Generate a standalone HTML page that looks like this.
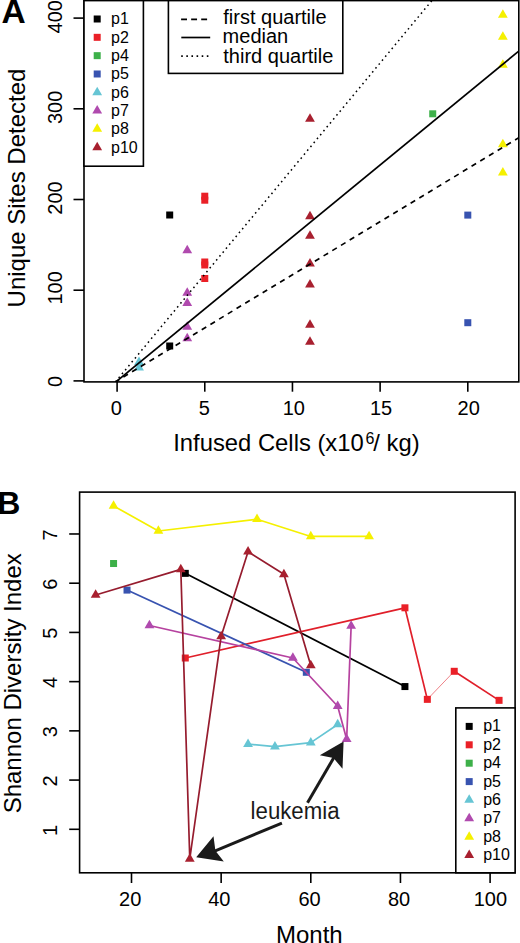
<!DOCTYPE html>
<html><head><meta charset="utf-8"><style>
html,body{margin:0;padding:0;background:#fff;}
body{width:520px;height:943px;overflow:hidden;}
svg{display:block;font-family:"Liberation Sans", sans-serif;}
</style></head><body>
<svg width="520" height="943" viewBox="0 0 520 943" font-family="Liberation Sans, sans-serif">
<rect width="520" height="943" fill="#fff"/>
<g>
<rect x="166.2" y="211.5" width="7" height="7" fill="#000000"/>
<rect x="166.2" y="342.5" width="7" height="7" fill="#000000"/>
<rect x="201.27" y="192.7" width="7" height="7" fill="#EA2027"/>
<rect x="201.27" y="196.7" width="7" height="7" fill="#EA2027"/>
<rect x="201.27" y="258.5" width="7" height="7" fill="#EA2027"/>
<rect x="201.27" y="261.5" width="7" height="7" fill="#EA2027"/>
<rect x="201.27" y="275" width="7" height="7" fill="#EA2027"/>
<rect x="429.23" y="110.3" width="7" height="7" fill="#3DB049"/>
<rect x="464.3" y="211.6" width="7" height="7" fill="#3853B0"/>
<rect x="464.3" y="319.2" width="7" height="7" fill="#3853B0"/>
<path d="M139.02 356.54L143.92 365.03L134.12 365.03Z" fill="#66C5D4"/>
<path d="M139.02 361.94L143.92 370.43L134.12 370.43Z" fill="#66C5D4"/>
<path d="M187.24 244.64L192.14 253.13L182.34 253.13Z" fill="#B04AAE"/>
<path d="M187.24 287.14L192.14 295.63L182.34 295.63Z" fill="#B04AAE"/>
<path d="M187.24 297.54L192.14 306.03L182.34 306.03Z" fill="#B04AAE"/>
<path d="M187.24 321.14L192.14 329.63L182.34 329.63Z" fill="#B04AAE"/>
<path d="M187.24 332.74L192.14 341.23L182.34 341.23Z" fill="#B04AAE"/>
<path d="M502.87 9.34L507.77 17.83L497.97 17.83Z" fill="#F5F000"/>
<path d="M502.87 31.24L507.77 39.73L497.97 39.73Z" fill="#F5F000"/>
<path d="M502.87 59.34L507.77 67.83L497.97 67.83Z" fill="#F5F000"/>
<path d="M502.87 138.64L507.77 147.13L497.97 147.13Z" fill="#F5F000"/>
<path d="M502.87 167.04L507.77 175.53L497.97 175.53Z" fill="#F5F000"/>
<path d="M309.99 113.14L314.88 121.63L305.09 121.63Z" fill="#A8202F"/>
<path d="M309.99 210.64L314.88 219.13L305.09 219.13Z" fill="#A8202F"/>
<path d="M309.99 230.34L314.88 238.83L305.09 238.83Z" fill="#A8202F"/>
<path d="M309.99 258.04L314.88 266.53L305.09 266.53Z" fill="#A8202F"/>
<path d="M309.99 278.94L314.88 287.43L305.09 287.43Z" fill="#A8202F"/>
<path d="M309.99 319.14L314.88 327.63L305.09 327.63Z" fill="#A8202F"/>
<path d="M309.99 336.14L314.88 344.63L305.09 344.63Z" fill="#A8202F"/>
<clipPath id="clipA"><rect x="84" y="0.6" width="434.8" height="381.3"/></clipPath>
<line x1="115.45" y1="381.9" x2="518.8" y2="137.71" stroke="#000" stroke-width="1.7" stroke-dasharray="5.3 4.875" stroke-dashoffset="0.9" clip-path="url(#clipA)"/>
<line x1="115.88" y1="381.9" x2="518.8" y2="51.1" stroke="#000" stroke-width="1.7"  clip-path="url(#clipA)"/>
<line x1="115.44" y1="381.9" x2="431.87" y2="0.6" stroke="#000" stroke-width="1.5" stroke-dasharray="1.6 3.49" stroke-dashoffset="0.02" clip-path="url(#clipA)"/>
<rect x="84" y="0.6" width="434.8" height="381.3" fill="none" stroke="#000" stroke-width="1.6"/>
<line x1="73.5" y1="380.9" x2="84" y2="380.9" stroke="#000" stroke-width="1.6"/>
<text x="0" y="0" font-size="20" transform="translate(61.5 387.05) rotate(-90)" >0</text>
<line x1="73.5" y1="290.2" x2="84" y2="290.2" stroke="#000" stroke-width="1.6"/>
<text x="0" y="0" font-size="20" transform="translate(61.5 304.5) rotate(-90)" >100</text>
<line x1="73.5" y1="199.5" x2="84" y2="199.5" stroke="#000" stroke-width="1.6"/>
<text x="0" y="0" font-size="20" transform="translate(61.5 214.7) rotate(-90)" >200</text>
<line x1="73.5" y1="108.8" x2="84" y2="108.8" stroke="#000" stroke-width="1.6"/>
<text x="0" y="0" font-size="20" transform="translate(61.5 124.07) rotate(-90)" >300</text>
<line x1="73.5" y1="18.1" x2="84" y2="18.1" stroke="#000" stroke-width="1.6"/>
<text x="0" y="0" font-size="20" transform="translate(61.5 33.47) rotate(-90)" >400</text>
<line x1="117.1" y1="381.9" x2="117.1" y2="391.7" stroke="#000" stroke-width="1.6"/>
<text x="110.85" y="414.8" font-size="20" >0</text>
<line x1="204.77" y1="381.9" x2="204.77" y2="391.7" stroke="#000" stroke-width="1.6"/>
<text x="198.7" y="414.8" font-size="20" >5</text>
<line x1="292.45" y1="381.9" x2="292.45" y2="391.7" stroke="#000" stroke-width="1.6"/>
<text x="282.72" y="414.8" font-size="20" >10</text>
<line x1="380.12" y1="381.9" x2="380.12" y2="391.7" stroke="#000" stroke-width="1.6"/>
<text x="369.95" y="414.8" font-size="20" >15</text>
<line x1="467.8" y1="381.9" x2="467.8" y2="391.7" stroke="#000" stroke-width="1.6"/>
<text x="457.57" y="414.8" font-size="20" >20</text>
<text x="0" y="0" font-size="24" transform="translate(25 307.45) rotate(-90)" >Unique Sites Detected</text>
<text x="173.26" y="450.7" font-size="23.8" >Infused Cells (x10</text>
<text x="365.5" y="443.6" font-size="16" >6</text>
<text x="373.3" y="450.7" font-size="23.8" >/ kg)</text>
<text x="1.46" y="22.7" font-size="33.5" font-weight="bold" >A</text>
<rect x="84" y="0.6" width="59.4" height="165.6" fill="#fff" stroke="#000" stroke-width="1.6"/>
<rect x="93.7" y="15.5" width="7" height="7" fill="#000000"/>
<text x="111" y="24.35" font-size="16" >p1</text>
<rect x="93.7" y="33.83" width="7" height="7" fill="#EA2027"/>
<text x="111" y="42.68" font-size="16" >p2</text>
<rect x="93.7" y="52.16" width="7" height="7" fill="#3DB049"/>
<text x="111" y="61.01" font-size="16" >p4</text>
<rect x="93.7" y="70.49" width="7" height="7" fill="#3853B0"/>
<text x="111" y="79.34" font-size="16" >p5</text>
<path d="M97.2 86.66L102.1 95.15L92.3 95.15Z" fill="#66C5D4"/>
<text x="111" y="97.67" font-size="16" >p6</text>
<path d="M97.2 104.99L102.1 113.48L92.3 113.48Z" fill="#B04AAE"/>
<text x="111" y="116" font-size="16" >p7</text>
<path d="M97.2 123.32L102.1 131.81L92.3 131.81Z" fill="#F5F000"/>
<text x="111" y="134.33" font-size="16" >p8</text>
<path d="M97.2 141.65L102.1 150.14L92.3 150.14Z" fill="#A8202F"/>
<text x="111" y="152.66" font-size="16" >p10</text>
<rect x="168.4" y="0.6" width="174.4" height="72.8" fill="#fff" stroke="#000" stroke-width="1.6"/>
<line x1="181.1" y1="19.3" x2="210" y2="19.3" stroke="#000" stroke-width="1.7" stroke-dasharray="5.9 4.15"/>
<line x1="181.3" y1="37.5" x2="210.2" y2="37.5" stroke="#000" stroke-width="1.7"/>
<line x1="181.1" y1="56.1" x2="210" y2="56.1" stroke="#000" stroke-width="1.6" stroke-dasharray="1.6 3.52" stroke-dashoffset="-0.1"/>
<text x="223.25" y="24.2" font-size="20" >first quartile</text>
<text x="222.6" y="42.7" font-size="20" >median</text>
<text x="223.3" y="63.3" font-size="20" >third quartile</text>
</g>
<polyline points="185.29,573.36 404.93,686.56" fill="none" stroke="#000000" stroke-width="1.7" stroke-linejoin="round"/>
<rect x="181.79" y="569.86" width="7" height="7" fill="#000000"/>
<rect x="401.43" y="683.06" width="7" height="7" fill="#000000"/>
<polyline points="185.29,658.01 404.93,607.81 427.34,699.36" fill="none" stroke="#E01F2A" stroke-width="1.7" stroke-linejoin="round"/>
<polyline points="454.24,671.3 499.06,700.34" fill="none" stroke="#E01F2A" stroke-width="1.7" stroke-linejoin="round"/>
<line x1="427.34" y1="699.36" x2="454.24" y2="671.3" stroke="#E01F2A" stroke-width="0.8" stroke-opacity="0.7"/>
<rect x="181.79" y="654.51" width="7" height="7" fill="#EA2027"/>
<rect x="401.43" y="604.31" width="7" height="7" fill="#EA2027"/>
<rect x="423.84" y="695.86" width="7" height="7" fill="#EA2027"/>
<rect x="450.74" y="667.8" width="7" height="7" fill="#EA2027"/>
<rect x="495.56" y="696.84" width="7" height="7" fill="#EA2027"/>
<rect x="110.07" y="560.01" width="7" height="7" fill="#3DB049"/>
<polyline points="127.02,590.09 306.32,672.29" fill="none" stroke="#3853B0" stroke-width="1.7" stroke-linejoin="round"/>
<rect x="123.52" y="586.59" width="7" height="7" fill="#3853B0"/>
<rect x="302.82" y="668.79" width="7" height="7" fill="#3853B0"/>
<polyline points="248.05,744.15 274.94,746.61 310.8,742.67 337.69,724.46" fill="none" stroke="#66C5D4" stroke-width="1.7" stroke-linejoin="round"/>
<path d="M248.05 738.49L252.95 746.98L243.15 746.98Z" fill="#66C5D4"/>
<path d="M274.94 740.95L279.84 749.44L270.04 749.44Z" fill="#66C5D4"/>
<path d="M310.8 737.01L315.7 745.5L305.9 745.5Z" fill="#66C5D4"/>
<path d="M337.69 718.8L342.59 727.29L332.8 727.29Z" fill="#66C5D4"/>
<polyline points="149.43,625.53 292.87,658.01 337.69,706.25 346.66,739.23 351.14,626.02" fill="none" stroke="#B6429F" stroke-width="1.7" stroke-linejoin="round"/>
<path d="M149.43 619.87L154.33 628.36L144.53 628.36Z" fill="#B04AAE"/>
<path d="M292.87 652.36L297.77 660.84L287.97 660.84Z" fill="#B04AAE"/>
<path d="M337.69 700.59L342.59 709.08L332.8 709.08Z" fill="#B04AAE"/>
<path d="M346.66 733.57L351.56 742.06L341.76 742.06Z" fill="#B04AAE"/>
<path d="M351.14 620.36L356.04 628.85L346.24 628.85Z" fill="#B04AAE"/>
<polyline points="113.57,505.92 158.4,531.03 257.01,519.21 310.8,536.44 369.07,536.44" fill="none" stroke="#F5F000" stroke-width="1.7" stroke-linejoin="round"/>
<path d="M113.57 500.27L118.47 508.75L108.67 508.75Z" fill="#F5F000"/>
<path d="M158.4 525.37L163.3 533.86L153.5 533.86Z" fill="#F5F000"/>
<path d="M257.01 513.56L261.91 522.04L252.11 522.04Z" fill="#F5F000"/>
<path d="M310.8 530.78L315.7 539.27L305.9 539.27Z" fill="#F5F000"/>
<path d="M369.07 530.78L373.97 539.27L364.17 539.27Z" fill="#F5F000"/>
<polyline points="95.64,595.01 180.81,569.42 189.77,858.83 221.15,636.36 248.05,551.7 283.9,574.34 310.8,665.4" fill="none" stroke="#961C2E" stroke-width="1.7" stroke-linejoin="round"/>
<path d="M95.64 589.35L100.54 597.84L90.74 597.84Z" fill="#A8202F"/>
<path d="M180.81 563.76L185.71 572.25L175.91 572.25Z" fill="#A8202F"/>
<path d="M189.77 853.17L194.67 861.66L184.87 861.66Z" fill="#A8202F"/>
<path d="M221.15 630.7L226.05 639.19L216.25 639.19Z" fill="#A8202F"/>
<path d="M248.05 546.04L252.95 554.53L243.15 554.53Z" fill="#A8202F"/>
<path d="M283.9 568.68L288.8 577.17L279 577.17Z" fill="#A8202F"/>
<path d="M310.8 659.74L315.7 668.23L305.9 668.23Z" fill="#A8202F"/>
<rect x="79.6" y="492.1" width="435.5" height="380.7" fill="none" stroke="#000" stroke-width="1.6"/>
<line x1="69.2" y1="829.3" x2="79.6" y2="829.3" stroke="#000" stroke-width="1.6"/>
<text x="0" y="0" font-size="20" transform="translate(57.4 836.02) rotate(-90)" >1</text>
<line x1="69.2" y1="780.08" x2="79.6" y2="780.08" stroke="#000" stroke-width="1.6"/>
<text x="0" y="0" font-size="20" transform="translate(57.4 786.55) rotate(-90)" >2</text>
<line x1="69.2" y1="730.86" x2="79.6" y2="730.86" stroke="#000" stroke-width="1.6"/>
<text x="0" y="0" font-size="20" transform="translate(57.4 737.26) rotate(-90)" >3</text>
<line x1="69.2" y1="681.64" x2="79.6" y2="681.64" stroke="#000" stroke-width="1.6"/>
<text x="0" y="0" font-size="20" transform="translate(57.4 688.04) rotate(-90)" >4</text>
<line x1="69.2" y1="632.42" x2="79.6" y2="632.42" stroke="#000" stroke-width="1.6"/>
<text x="0" y="0" font-size="20" transform="translate(57.4 638.87) rotate(-90)" >5</text>
<line x1="69.2" y1="583.2" x2="79.6" y2="583.2" stroke="#000" stroke-width="1.6"/>
<text x="0" y="0" font-size="20" transform="translate(57.4 589.72) rotate(-90)" >6</text>
<line x1="69.2" y1="533.98" x2="79.6" y2="533.98" stroke="#000" stroke-width="1.6"/>
<text x="0" y="0" font-size="20" transform="translate(57.4 540.46) rotate(-90)" >7</text>
<line x1="131.5" y1="872.8" x2="131.5" y2="883" stroke="#000" stroke-width="1.6"/>
<text x="119.08" y="905.8" font-size="20" >20</text>
<line x1="221.15" y1="872.8" x2="221.15" y2="883" stroke="#000" stroke-width="1.6"/>
<text x="208.25" y="905.8" font-size="20" >40</text>
<line x1="310.8" y1="872.8" x2="310.8" y2="883" stroke="#000" stroke-width="1.6"/>
<text x="298.38" y="905.8" font-size="20" >60</text>
<line x1="400.45" y1="872.8" x2="400.45" y2="883" stroke="#000" stroke-width="1.6"/>
<text x="387.95" y="905.8" font-size="20" >80</text>
<line x1="490.1" y1="872.8" x2="490.1" y2="883" stroke="#000" stroke-width="1.6"/>
<text x="473.75" y="905.8" font-size="20" >100</text>
<text x="0" y="0" font-size="24" transform="translate(20.8 813.35) rotate(-90)" >Shannon Diversity Index</text>
<text x="275.98" y="942.9" font-size="24" >Month</text>
<text x="-2.88" y="514.2" font-size="32" font-weight="bold" >B</text>
<rect x="455.8" y="707.9" width="59.3" height="164.9" fill="#fff" stroke="#000" stroke-width="1.6"/>
<rect x="465.7" y="722.9" width="7" height="7" fill="#000000"/>
<text x="483.2" y="731.4" font-size="16" >p1</text>
<rect x="465.7" y="741.3" width="7" height="7" fill="#EA2027"/>
<text x="483.2" y="749.8" font-size="16" >p2</text>
<rect x="465.7" y="759.7" width="7" height="7" fill="#3DB049"/>
<text x="483.2" y="768.2" font-size="16" >p4</text>
<rect x="465.7" y="778.1" width="7" height="7" fill="#3853B0"/>
<text x="483.2" y="786.6" font-size="16" >p5</text>
<path d="M469.2 794.34L474.1 802.83L464.3 802.83Z" fill="#66C5D4"/>
<text x="483.2" y="805" font-size="16" >p6</text>
<path d="M469.2 812.74L474.1 821.23L464.3 821.23Z" fill="#B04AAE"/>
<text x="483.2" y="823.4" font-size="16" >p7</text>
<path d="M469.2 831.14L474.1 839.63L464.3 839.63Z" fill="#F5F000"/>
<text x="483.2" y="841.8" font-size="16" >p8</text>
<path d="M469.2 849.54L474.1 858.03L464.3 858.03Z" fill="#A8202F"/>
<text x="483.2" y="860.2" font-size="16" >p10</text>
<text x="250.6" y="818.6" font-size="23" fill="#1a1a1a" textLength="88.9" lengthAdjust="spacingAndGlyphs">leukemia</text>
<line x1="307.5" y1="802.7" x2="334.5" y2="756.5" stroke="#1a1a1a" stroke-width="3"/>
<path d="M343.6 741.5 L319.8 755.2 L333.5 758.1 L342.5 768.8 Z" fill="#1a1a1a"/>
<line x1="281.9" y1="823.1" x2="214" y2="851.4" stroke="#1a1a1a" stroke-width="3"/>
<path d="M196.2 857.3 L213.5 836.2 L215.4 850.8 L223.8 861.4 Z" fill="#1a1a1a"/>
</svg>
</body></html>
